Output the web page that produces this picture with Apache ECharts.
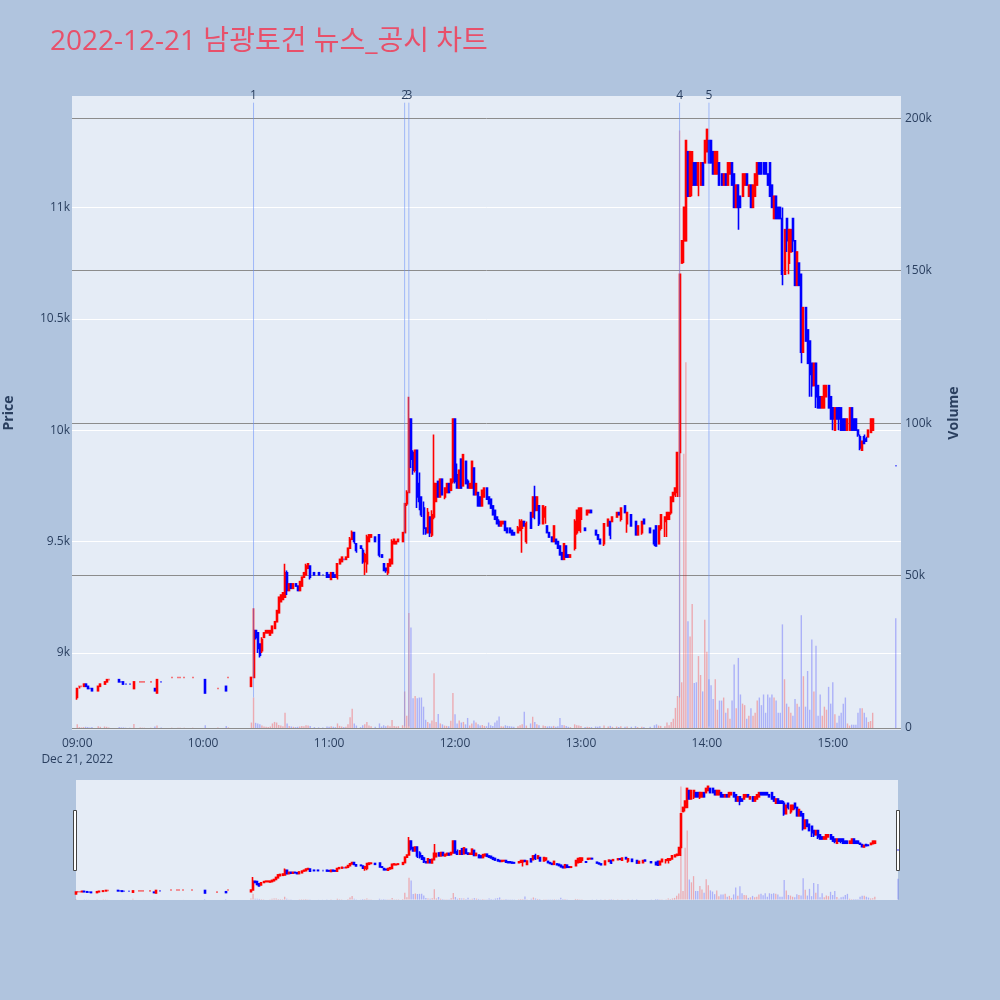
<!DOCTYPE html>
<html><head><meta charset="utf-8">
<script src="https://cdn.jsdelivr.net/npm/echarts@6/dist/echarts.min.js"></script>
<style>html,body{margin:0;padding:0;background:#b0c4de}#c{width:1000px;height:1000px}</style>
</head><body><div id="c"></div>
<script>
const times = [
'09:00','09:01','09:02','09:03','09:04','09:05','09:06','09:07','09:10','09:11',
'09:13','09:14','09:15','09:20','09:21','09:22','09:23','09:25','09:27','09:30',
'09:31','09:32','09:35','09:37','09:38','09:40','09:45','09:48','09:49','09:51',
'09:55','10:01','10:07','10:11','10:12','10:23','10:24','10:25','10:26','10:27',
'10:28','10:29','10:30','10:31','10:32','10:33','10:34','10:35','10:36','10:37',
'10:38','10:39','10:40','10:41','10:42','10:43','10:44','10:45','10:46','10:47',
'10:48','10:49','10:50','10:51','10:53','10:55','10:57','10:59','11:00','11:01',
'11:02','11:03','11:04','11:05','11:06','11:07','11:08','11:09','11:10','11:11',
'11:12','11:13','11:15','11:16','11:17','11:18','11:19','11:20','11:22','11:24',
'11:25','11:26','11:27','11:28','11:29','11:30','11:31','11:32','11:33','11:35',
'11:36','11:37','11:38','11:39','11:40','11:41','11:42','11:43','11:44','11:45',
'11:46','11:47','11:48','11:49','11:50','11:51','11:52','11:53','11:54','11:55',
'11:56','11:57','11:58','11:59','12:00','12:01','12:02','12:03','12:04','12:05',
'12:06','12:07','12:08','12:09','12:10','12:11','12:12','12:13','12:14','12:15',
'12:16','12:17','12:18','12:19','12:20','12:21','12:22','12:23','12:24','12:25',
'12:26','12:27','12:28','12:30','12:31','12:32','12:33','12:34','12:36','12:37',
'12:38','12:39','12:40','12:42','12:43','12:44','12:45','12:46','12:47','12:48',
'12:49','12:50','12:51','12:52','12:53','12:54','12:55','12:57','12:58','12:59',
'13:00','13:02','13:03','13:04','13:05','13:07','13:08','13:09','13:11','13:13',
'13:14','13:15','13:17','13:18','13:19','13:21','13:22','13:24','13:26','13:27',
'13:29','13:30','13:33','13:35','13:36','13:37','13:38','13:40','13:41','13:42',
'13:43','13:44','13:45','13:46','13:47','13:48','13:49','13:50','13:51','13:52',
'13:53','13:54','13:55','13:56','13:57','13:58','13:59','14:00','14:01','14:02',
'14:03','14:04','14:05','14:06','14:07','14:08','14:09','14:10','14:11','14:12',
'14:13','14:14','14:15','14:16','14:17','14:18','14:19','14:20','14:21','14:22',
'14:23','14:24','14:25','14:26','14:27','14:28','14:29','14:30','14:31','14:32',
'14:33','14:34','14:35','14:36','14:37','14:38','14:39','14:40','14:41','14:42',
'14:43','14:44','14:45','14:46','14:47','14:48','14:49','14:50','14:51','14:52',
'14:53','14:54','14:55','14:56','14:57','14:58','14:59','15:00','15:01','15:02',
'15:03','15:04','15:05','15:06','15:07','15:08','15:09','15:10','15:11','15:12',
'15:13','15:14','15:15','15:16','15:17','15:18','15:19','15:30'
];
const opens = [
8800,8850,8850,8850,8860,8850,8840,8840,8830,8850,
8860,8870,8880,8880,8870,8870,8860,8860,8840,8870,
8870,8870,8870,8840,8820,8870,8890,8890,8890,8890,
8890,8880,8840,8850,8890,8850,8890,9100,9090,9040,
9010,9070,9090,9090,9080,9090,9110,9140,9180,9230,
9240,9250,9360,9280,9310,9290,9310,9300,9280,9300,
9340,9350,9380,9390,9360,9360,9350,9360,9350,9330,
9360,9350,9340,9400,9410,9420,9420,9430,9470,9510,
9540,9490,9480,9460,9410,9400,9500,9520,9520,9530,
9440,9400,9380,9360,9390,9400,9490,9490,9500,9500,
9540,9670,9720,10050,9900,9820,9910,9760,9700,9650,
9560,9540,9610,9530,9610,9680,9770,9700,9780,9700,
9720,9760,9730,9770,10050,9800,9740,9870,9750,9860,
9770,9740,9740,9830,9710,9720,9700,9660,9700,9740,
9700,9690,9660,9640,9610,9590,9570,9580,9590,9560,
9560,9550,9540,9540,9550,9560,9590,9500,9630,9610,
9700,9640,9660,9580,9610,9570,9540,9520,9500,9510,
9500,9480,9450,9420,9480,9440,9430,9470,9540,9550,
9600,9560,9620,9630,9640,9550,9530,9510,9490,9570,
9590,9590,9610,9630,9600,9660,9580,9620,9590,9530,
9540,9600,9560,9550,9570,9490,9560,9590,9600,9600,
9630,9680,9710,9720,9900,10750,10850,10850,11250,11050,
11100,11200,11200,11100,11100,11200,11200,11250,11300,11300,
11250,11150,11150,11200,11150,11100,11150,11100,11150,11200,
11150,11000,11100,11050,11050,11100,11150,11050,11100,11000,
11050,11100,11200,11200,11200,11200,11150,11200,11100,10950,
11050,11000,11000,10950,10700,10950,10750,10800,10950,10850,
10650,10750,10700,10350,10550,10450,10400,10300,10200,10300,
10200,10150,10100,10100,10150,10200,10150,10100,10000,10100,
10100,10100,10050,10050,10000,10000,10100,10050,10050,10000,
9970,9910,9970,9960,9970,9990,10000,9840
];
const highs = [
8840,8850,8850,8860,8860,8850,8840,8840,8850,8860,
8870,8880,8880,8880,8870,8870,8860,8860,8870,8870,
8870,8870,8870,8840,8880,8870,8890,8890,8890,8890,
8890,8880,8840,8850,8890,8890,9200,9100,9090,9040,
9070,9090,9100,9100,9100,9120,9140,9190,9250,9260,
9270,9400,9370,9310,9310,9310,9310,9300,9320,9340,
9360,9400,9400,9390,9360,9360,9350,9360,9350,9360,
9360,9350,9400,9420,9430,9420,9430,9470,9520,9550,
9540,9490,9480,9470,9450,9530,9530,9530,9520,9530,
9440,9400,9380,9400,9420,9510,9510,9500,9510,9540,
9670,9730,10150,10050,9910,9910,9910,9810,9700,9680,
9560,9650,9610,9640,9980,9760,9770,9780,9780,9740,
9760,9760,9780,10050,10050,9850,9820,9870,9890,9860,
9780,9760,9860,9830,9760,9720,9700,9730,9740,9740,
9700,9690,9660,9640,9610,9600,9590,9590,9590,9560,
9560,9550,9540,9570,9600,9600,9590,9590,9630,9700,
9750,9700,9660,9660,9660,9570,9540,9520,9570,9510,
9500,9480,9450,9490,9480,9440,9440,9600,9640,9650,
9650,9560,9640,9640,9640,9550,9530,9510,9580,9600,
9590,9610,9630,9630,9650,9660,9630,9620,9590,9570,
9590,9600,9560,9550,9570,9570,9620,9610,9630,9630,
9700,9720,9740,9900,10700,10850,11000,11300,11250,11250,
11250,11200,11200,11200,11200,11200,11300,11350,11300,11300,
11250,11250,11250,11200,11150,11150,11150,11200,11200,11200,
11150,11100,11100,11050,11150,11150,11150,11100,11100,11100,
11150,11200,11200,11200,11200,11200,11150,11200,11100,11050,
11050,11000,11000,11000,10900,10950,10900,10900,10950,10850,
10800,10750,10700,10550,10550,10450,10400,10300,10300,10300,
10200,10150,10150,10200,10200,10200,10150,10100,10100,10100,
10100,10100,10050,10050,10050,10100,10100,10050,10050,10000,
9980,9950,9980,9970,10000,10050,10050,9840
];
const lows = [
8790,8840,8850,8850,8850,8840,8840,8830,8830,8850,
8860,8870,8880,8870,8870,8860,8860,8860,8840,8870,
8870,8870,8870,8830,8820,8870,8890,8890,8890,8890,
8890,8820,8840,8830,8890,8850,8890,9060,9000,8980,
9000,9070,9090,9090,9080,9090,9110,9140,9180,9230,
9240,9250,9260,9280,9290,9290,9300,9280,9280,9300,
9340,9350,9380,9330,9350,9350,9350,9340,9340,9330,
9340,9340,9330,9400,9410,9420,9420,9430,9470,9510,
9490,9450,9470,9400,9350,9360,9500,9520,9500,9430,
9430,9370,9360,9350,9390,9400,9490,9490,9500,9500,
9540,9660,9720,9830,9800,9810,9650,9640,9610,9530,
9530,9540,9520,9520,9600,9680,9700,9700,9710,9690,
9720,9720,9730,9760,9760,9740,9740,9740,9750,9760,
9740,9740,9740,9710,9710,9660,9660,9660,9700,9690,
9670,9650,9620,9600,9580,9570,9570,9580,9550,9540,
9540,9530,9530,9540,9550,9450,9570,9490,9560,9610,
9600,9640,9570,9580,9580,9540,9520,9500,9500,9490,
9470,9440,9420,9420,9430,9430,9430,9460,9530,9550,
9540,9550,9620,9630,9630,9530,9510,9490,9480,9570,
9510,9590,9610,9620,9590,9630,9540,9570,9530,9530,
9530,9580,9540,9480,9480,9490,9550,9520,9520,9600,
9620,9680,9700,9700,9700,10750,10750,10850,11050,11050,
11050,11100,11100,11050,11100,11100,11200,11250,11200,11200,
11150,11150,11150,11100,11100,11100,11100,11100,11150,11100,
11000,11000,10900,11000,11050,11100,11100,11050,11000,11000,
11050,11100,11150,11150,11150,11150,11100,11050,11000,10950,
10950,10950,10950,10650,10700,10800,10700,10800,10800,10650,
10650,10650,10300,10350,10400,10300,10150,10150,10200,10100,
10100,10100,10100,10100,10150,10100,10050,10000,10000,10050,
10000,10000,10000,10000,10000,10000,10000,10000,10000,9970,
9910,9910,9940,9950,9970,9990,10000,9840
];
const closes = [
8840,8850,8850,8860,8850,8840,8840,8830,8850,8860,
8870,8880,8880,8870,8870,8860,8860,8860,8870,8870,
8870,8870,8870,8830,8880,8870,8890,8890,8890,8890,
8890,8820,8840,8830,8890,8890,9100,9070,9020,8990,
9060,9090,9100,9100,9100,9120,9140,9190,9250,9260,
9270,9360,9280,9310,9290,9310,9300,9280,9320,9340,
9360,9390,9400,9340,9350,9350,9350,9340,9340,9360,
9340,9340,9400,9420,9430,9420,9430,9470,9510,9540,
9500,9460,9470,9410,9440,9520,9530,9530,9500,9440,
9430,9370,9370,9400,9420,9500,9510,9500,9510,9540,
9670,9720,10050,9870,9820,9910,9700,9680,9620,9560,
9540,9630,9540,9620,9760,9760,9700,9780,9710,9740,
9760,9720,9780,10050,9770,9740,9820,9740,9890,9760,
9740,9760,9860,9710,9760,9660,9660,9730,9740,9690,
9670,9650,9620,9600,9580,9570,9590,9590,9550,9540,
9540,9530,9530,9560,9590,9590,9570,9580,9560,9700,
9640,9700,9580,9660,9650,9540,9520,9500,9570,9490,
9470,9440,9420,9490,9430,9430,9440,9590,9640,9650,
9650,9550,9640,9640,9630,9530,9510,9490,9580,9600,
9530,9610,9630,9620,9650,9630,9630,9570,9530,9570,
9590,9580,9540,9490,9480,9570,9620,9610,9630,9630,
9700,9720,9740,9900,10700,10850,11000,11300,11050,11250,
11250,11100,11100,11200,11200,11100,11300,11350,11200,11200,
11150,11250,11250,11100,11100,11150,11100,11200,11200,11100,
11000,11100,11000,11000,11150,11150,11100,11100,11000,11100,
11150,11200,11150,11150,11150,11150,11100,11050,11000,11050,
10950,10950,10950,10700,10900,10850,10900,10900,10850,10650,
10800,10650,10350,10550,10400,10300,10250,10200,10300,10150,
10100,10100,10150,10200,10200,10100,10050,10050,10100,10050,
10050,10000,10000,10000,10050,10100,10000,10000,10000,9980,
9920,9950,9940,9950,10000,10050,10050,9840
];
const volumes = [
1200,300,200,300,400,300,200,300,600,400,
500,400,200,300,200,200,100,100,1300,200,
100,100,100,500,800,200,100,100,100,100,
100,900,200,700,200,1800,10000,1700,1500,1200,
800,500,400,300,500,1500,2000,1800,1000,800,
600,5000,1500,700,500,400,300,400,500,700,
600,900,800,700,300,200,200,500,400,600,
400,300,1500,700,500,300,400,1200,3500,6300,
1500,800,300,900,1200,2000,800,600,400,1500,
500,900,600,800,600,2600,700,500,600,900,
12000,4000,37700,33000,9800,10500,9800,10000,10000,7000,
2700,2000,1500,2500,18000,2000,4600,1500,1200,800,
700,600,2400,11500,4500,1500,2500,1800,2000,1200,
3300,800,1500,2500,1800,1200,800,1000,700,600,
1800,900,700,1800,2500,3800,600,500,900,700,
600,500,400,600,900,1200,5300,800,1500,3700,
2000,1200,900,800,700,500,600,500,700,400,
600,3300,1000,900,700,400,300,1200,900,800,
700,300,400,300,300,500,400,600,800,500,
700,400,500,300,600,400,500,400,600,300,
400,300,400,900,1200,800,700,600,1800,900,
2000,3000,6600,10500,196000,15000,90000,120000,35000,30000,
40700,14800,15000,23600,17400,12000,35500,25000,16000,14000,
9500,16000,6000,9000,9000,10000,5000,6500,3000,9000,
20800,6500,23000,11000,8000,7500,3000,4000,6500,4000,
5000,9000,10000,7500,11000,5000,11000,10000,11000,10000,
9000,5000,5000,34000,16000,8000,7000,5000,4000,9500,
8000,7000,37000,17000,7000,18700,6000,29000,12000,27000,
4000,11000,4000,7000,6000,13500,8000,15000,4500,1700,
4000,5000,8000,10000,1500,800,1100,1100,1100,5000,
6500,6500,5000,3500,2000,2300,5000,36000
];
const newsTimes = ['10:24','11:36','11:38','13:47','14:01'];
const newsLabels = ['1','2','3','4','5'];
const titleText = '2022-12-21 남광토건 뉴스_공시 차트';

// ---- styling / scaffolding ----
const UP = '#ff0000', DOWN = '#0000ff';
const UPV = 'rgba(255,0,0,0.28)', DOWNV = 'rgba(0,0,255,0.25)';
const TXT = '#2a3f5f';
const NEWS_COLOR = 'rgba(100,140,250,0.55)';
const FONT = '"Open Sans", verdana, arial, sans-serif';
const PMIN = 8654, PMAX = 11500, VMIN = -650, VMAX = 207300;
const NEWS_TOP = 11470;
const NEWS_BOTTOM = [8800, 8670, 8670, 8800, 8670];

function fmt(m) { const t = 540 + m; return String(Math.floor(t / 60)).padStart(2, '0') + ':' + String(t % 60).padStart(2, '0'); }
const mainCats = []; for (let m = -2; m <= 392; m++) mainCats.push(fmt(m));
const miniCats = []; for (let m = 0; m <= 390; m++) miniCats.push(fmt(m));

const dirs = [];
for (let i = 0; i < times.length; i++) {
  let d;
  if (closes[i] > opens[i]) d = 1;
  else if (closes[i] < opens[i]) d = -1;
  else if (i > 0 && closes[i] > closes[i - 1]) d = 1;
  else if (i > 0 && closes[i] < closes[i - 1]) d = -1;
  else d = i > 0 ? dirs[i - 1] : 1;
  dirs.push(d);
}
const idx = {}; times.forEach((t, i) => { idx[t] = i; });
function candleData(cats) {
  return cats.map(c => {
    const i = idx[c]; if (i === undefined) return '-';
    const col = dirs[i] > 0 ? UP : DOWN;
    return { value: [opens[i], closes[i], lows[i], highs[i]],
      itemStyle: { color: col, color0: col, borderColor: col, borderColor0: col, borderColorDoji: col } };
  });
}
function volData(cats) {
  return cats.map(c => {
    const i = idx[c]; if (i === undefined) return '-';
    return { value: volumes[i], itemStyle: { color: dirs[i] > 0 ? UPV : DOWNV } };
  });
}
function kfmt(v) { return v === 0 ? '0' : (v / 1000) + 'k'; }

const newsSeries = newsTimes.map((t, k) => ({
  type: 'line', xAxisIndex: 0, yAxisIndex: 0, silent: true, z: 4,
  symbol: 'circle', symbolSize: 0.01, showSymbol: true,
  lineStyle: { color: NEWS_COLOR, width: 1 },
  itemStyle: { color: NEWS_COLOR },
  data: [
    { value: [t, NEWS_TOP], label: { show: true, position: 'top', distance: 1, formatter: newsLabels[k], color: TXT, fontSize: 12 } },
    { value: [t, NEWS_BOTTOM[k]], label: { show: false } }
  ]
}));

const chart = echarts.init(document.getElementById('c'), null, { renderer: 'canvas' });
chart.setOption({
  backgroundColor: '#b0c4de',
  animation: false,
  textStyle: { fontFamily: FONT },
  title: {
    text: titleText, left: 45, top: 23,
    textStyle: { color: '#e8506a', fontSize: 28, fontWeight: 'normal', fontFamily: '"Open Sans","Noto Sans CJK KR",sans-serif' }
  },
  grid: [
    { left: 72, top: 96, width: 829, height: 634, show: true, backgroundColor: '#e5ecf6', borderWidth: 0,
      containLabel: false, outerBoundsMode: 'none' },
    { left: 76, top: 780, width: 822, height: 120, show: true, backgroundColor: '#e5ecf6', borderWidth: 0,
      containLabel: false, outerBoundsMode: 'none' }
  ],
  xAxis: [
    { type: 'category', gridIndex: 0, data: mainCats, boundaryGap: true,
      axisLine: { show: false }, axisTick: { show: false }, splitLine: { show: false },
      axisLabel: { interval: (i, v) => v.endsWith(':00'), formatter: v => v === '09:00' ? '09:00\nDec 21, 2022' : v,
        color: TXT, fontSize: 12, margin: 6, lineHeight: 16, fontFamily: FONT } },
    { type: 'category', gridIndex: 1, data: miniCats, boundaryGap: false, show: false }
  ],
  yAxis: [
    { type: 'value', gridIndex: 0, min: PMIN, max: PMAX, splitNumber: 5, position: 'left',
      name: 'Price', nameLocation: 'middle', nameGap: 56,
      nameTextStyle: { color: TXT, fontSize: 14, fontWeight: 'bold', fontFamily: FONT },
      axisLine: { show: false }, axisTick: { show: false },
      axisLabel: { color: TXT, fontSize: 12, margin: 2, showMinLabel: false, showMaxLabel: false,
        formatter: v => (v % 500 === 0 ? kfmt(v) : '') },
      splitLine: { show: true, showMinLine: false, showMaxLine: false, lineStyle: { color: '#ffffff', width: 1 } } },
    { type: 'value', gridIndex: 0, min: VMIN, max: VMAX, splitNumber: 5, position: 'right',
      name: 'Volume', nameLocation: 'middle', nameGap: 46,
      nameTextStyle: { color: TXT, fontSize: 14, fontWeight: 'bold', fontFamily: FONT },
      axisLine: { show: false }, axisTick: { show: false },
      axisLabel: { color: TXT, fontSize: 12, margin: 4, showMinLabel: false, showMaxLabel: false,
        formatter: v => (v % 50000 === 0 ? kfmt(v) : '') },
      splitLine: { show: true, showMinLine: false, showMaxLine: false, lineStyle: { color: '#8c8c8c', width: 1 } } },
    { type: 'value', gridIndex: 1, min: PMIN, max: PMAX, show: false, splitLine: { show: false } },
    { type: 'value', gridIndex: 1, min: VMIN, max: VMAX, show: false, splitLine: { show: false } }
  ],
  series: [
    { type: 'bar', name: 'vol', xAxisIndex: 0, yAxisIndex: 1, data: volData(mainCats), barWidth: 1.4, silent: true },
    { type: 'candlestick', name: 'price', xAxisIndex: 0, yAxisIndex: 0, data: candleData(mainCats),
      barWidth: 1.5, itemStyle: { borderWidth: 1.6 }, silent: true },
    { type: 'bar', name: 'vol2', xAxisIndex: 1, yAxisIndex: 3, data: volData(miniCats), barWidth: 1.3, silent: true },
    { type: 'candlestick', name: 'price2', xAxisIndex: 1, yAxisIndex: 2, data: candleData(miniCats),
      barWidth: 1.5, itemStyle: { borderWidth: 1.6 }, silent: true }
  ].concat(newsSeries),
  graphic: [
    { type: 'rect', shape: { x: 73.5, y: 810.5, width: 3, height: 60 }, style: { fill: '#ffffff', stroke: '#444', lineWidth: 1 } },
    { type: 'rect', shape: { x: 896.5, y: 810.5, width: 3, height: 60 }, style: { fill: '#ffffff', stroke: '#444', lineWidth: 1 } }
  ]
});
</script>
</body></html>
